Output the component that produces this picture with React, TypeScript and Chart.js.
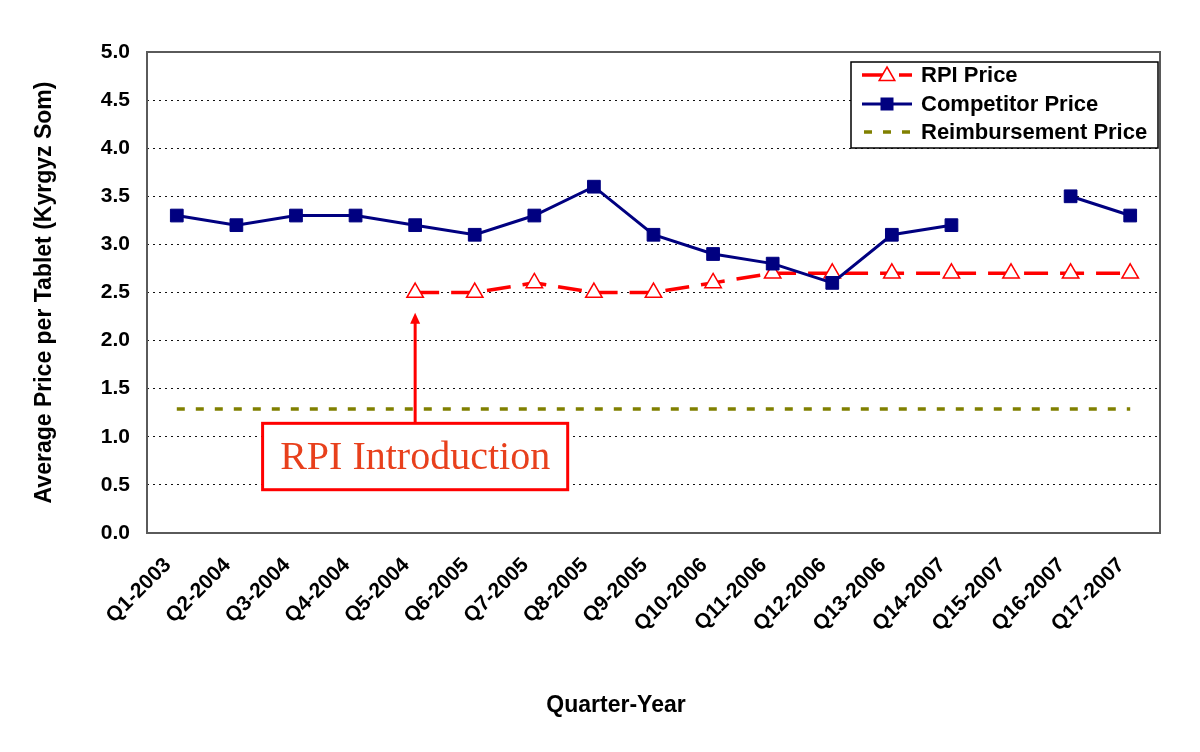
import React, { useEffect, useRef } from "react";
import { Chart, registerables } from "chart.js";

Chart.register(...registerables);

const categories = [
  "Q1-2003", "Q2-2004", "Q3-2004", "Q4-2004", "Q5-2004", "Q6-2005", "Q7-2005", "Q8-2005", "Q9-2005",
  "Q10-2006", "Q11-2006", "Q12-2006", "Q13-2006", "Q14-2007", "Q15-2007", "Q16-2007", "Q17-2007",
];
const rpiPrice = [null, null, null, null, 2.5, 2.5, 2.6, 2.5, 2.5, 2.6, 2.7, 2.7, 2.7, 2.7, 2.7, 2.7, 2.7];
const competitorPrice = [3.3, 3.2, 3.3, 3.3, 3.2, 3.1, 3.3, 3.6, 3.1, 2.9, 2.8, 2.6, 3.1, 3.2, null, 3.5, 3.3];
const reimbursementPrice = [1.29, 1.29, 1.29, 1.29, 1.29, 1.29, 1.29, 1.29, 1.29, 1.29, 1.29, 1.29, 1.29, 1.29, 1.29, 1.29, 1.29];
const seriesNames = ["RPI Price", "Competitor Price", "Reimbursement Price"];
const yMin = 0;
const yMax = 5;
const yStep = 0.5;
const yTitle = "Average Price per Tablet (Kyrgyz Som)";
const xTitle = "Quarter-Year";

// annotation (in data units: category index / value)
const annotationText = "RPI Introduction";
const arrowIndex = 4;
const arrowTipValue = 2.29;
const arrowBaseValue = 1.14;
const boxLeftIndex = 1.44;
const boxRightIndex = 6.56;
const boxTopValue = 1.14;
const boxBottomValue = 0.45;

const FONT = "'Liberation Sans', Arial, sans-serif";
const RED = "#ff0000";
const NAVY = "#000080";
const OLIVE = "#808000";

function drawTriangle(ctx: CanvasRenderingContext2D, x: number, y: number, r: number) {
  ctx.beginPath();
  ctx.moveTo(x, y - r);
  ctx.lineTo(x + r * 0.87, y + r * 0.5);
  ctx.lineTo(x - r * 0.87, y + r * 0.5);
  ctx.closePath();
  ctx.fillStyle = "#fff";
  ctx.fill();
  ctx.strokeStyle = RED;
  ctx.lineWidth = 1.5;
  ctx.stroke();
}

const overlayPlugin = {
  id: "overlay",
  afterDatasetsDraw(chart: any) {
    const ctx: CanvasRenderingContext2D = chart.ctx;
    const { left, right, top, bottom } = chart.chartArea;
    const xs = chart.scales.x;
    const ys = chart.scales.y;
    ctx.save();
    // frame
    ctx.setLineDash([]);
    ctx.strokeStyle = "#5a5a5a";
    ctx.lineWidth = 2;
    ctx.strokeRect(left, top, right - left, bottom - top);

    // arrow
    const ax = xs.getPixelForValue(arrowIndex);
    const tipY = ys.getPixelForValue(arrowTipValue);
    const baseY = ys.getPixelForValue(arrowBaseValue);
    ctx.strokeStyle = RED;
    ctx.fillStyle = RED;
    ctx.lineWidth = 3;
    ctx.beginPath();
    ctx.moveTo(ax, baseY);
    ctx.lineTo(ax, tipY + 8);
    ctx.stroke();
    ctx.beginPath();
    ctx.moveTo(ax, tipY);
    ctx.lineTo(ax + 5, tipY + 11);
    ctx.lineTo(ax - 5, tipY + 11);
    ctx.closePath();
    ctx.fill();

    // box
    const bx1 = xs.getPixelForValue(boxLeftIndex);
    const bx2 = xs.getPixelForValue(boxRightIndex);
    const by1 = ys.getPixelForValue(boxTopValue);
    const by2 = ys.getPixelForValue(boxBottomValue);
    ctx.fillStyle = "#fff";
    ctx.fillRect(bx1, by1, bx2 - bx1, by2 - by1);
    ctx.lineWidth = 3;
    ctx.strokeStyle = RED;
    ctx.strokeRect(bx1, by1, bx2 - bx1, by2 - by1);
    ctx.fillStyle = "#e8401c";
    ctx.font = "40px 'Liberation Serif', 'Times New Roman', serif";
    ctx.textAlign = "center";
    ctx.textBaseline = "middle";
    ctx.fillText(annotationText, (bx1 + bx2) / 2, (by1 + by2) / 2 + 2);

    // legend
    const lx = right - 309;
    const ly = top + 10;
    const lw = 307;
    const lh = 86;
    ctx.fillStyle = "#fff";
    ctx.fillRect(lx, ly, lw, lh);
    ctx.strokeStyle = "#000";
    ctx.lineWidth = 1.5;
    ctx.strokeRect(lx, ly, lw, lh);
    const rowY = [ly + 13, ly + 42, ly + 70];
    const sx1 = lx + 11;
    const sx2 = lx + 61;
    const mx = (sx1 + sx2) / 2;
    // RPI
    ctx.strokeStyle = RED;
    ctx.lineWidth = 3.5;
    ctx.beginPath();
    ctx.moveTo(sx1, rowY[0]);
    ctx.lineTo(mx, rowY[0]);
    ctx.stroke();
    ctx.beginPath();
    ctx.moveTo(mx + 12, rowY[0]);
    ctx.lineTo(sx2, rowY[0]);
    ctx.stroke();
    drawTriangle(ctx, mx, rowY[0] + 1, 9);
    // Competitor
    ctx.strokeStyle = NAVY;
    ctx.lineWidth = 3;
    ctx.beginPath();
    ctx.moveTo(sx1, rowY[1]);
    ctx.lineTo(sx2, rowY[1]);
    ctx.stroke();
    ctx.fillStyle = NAVY;
    ctx.fillRect(mx - 6.5, rowY[1] - 6.5, 13, 13);
    // Reimbursement
    ctx.strokeStyle = OLIVE;
    ctx.lineWidth = 3.5;
    ctx.setLineDash([8, 11]);
    ctx.beginPath();
    ctx.moveTo(sx1 + 2, rowY[2]);
    ctx.lineTo(sx2, rowY[2]);
    ctx.stroke();
    ctx.setLineDash([]);
    ctx.fillStyle = "#000";
    ctx.font = `bold 22px ${FONT}`;
    ctx.textAlign = "left";
    ctx.textBaseline = "middle";
    seriesNames.forEach((n, i) => ctx.fillText(n, lx + 70, rowY[i] + 1));

    // x title
    ctx.font = `bold 23px ${FONT}`;
    ctx.textAlign = "center";
    ctx.fillText(xTitle, left + (right - left) * 0.463, chart.height - 46);
    ctx.restore();
  },
};

export default function App() {
  const ref = useRef<HTMLCanvasElement>(null);
  useEffect(() => {
    if (!ref.current) return;
    Chart.defaults.font.family = FONT;
    const chart = new Chart(ref.current, {
      type: "line",
      data: {
        labels: categories,
        datasets: [
          {
            label: seriesNames[0],
            data: rpiPrice,
            borderColor: RED,
            borderWidth: 3.5,
            borderDash: [24, 12],
            pointStyle: "triangle",
            pointRadius: 9.5,
            pointBorderWidth: 1.5,
            pointBorderColor: RED,
            pointBackgroundColor: "#ffffff",
            tension: 0,
            order: 2,
          },
          {
            label: seriesNames[1],
            data: competitorPrice,
            borderColor: NAVY,
            borderWidth: 3,
            pointStyle: "rect",
            pointRadius: 9,
            pointBorderWidth: 1,
            pointBorderColor: NAVY,
            pointBackgroundColor: NAVY,
            tension: 0,
            order: 1,
          },
          {
            label: seriesNames[2],
            data: reimbursementPrice,
            borderColor: OLIVE,
            borderWidth: 3.5,
            borderDash: [8, 11],
            pointRadius: 0,
            tension: 0,
            order: 3,
          },
        ],
      },
      options: {
        animation: false,
        responsive: false,
        maintainAspectRatio: false,
        layout: { padding: { left: 0, right: 40, top: 52, bottom: 0 } },
        plugins: { legend: { display: false }, tooltip: { enabled: false } },
        scales: {
          x: {
            type: "category",
            offset: true,
            grid: { display: false, drawTicks: false },
            border: { display: false },
            ticks: {
              color: "#000",
              font: { size: 21, weight: "bold" },
              minRotation: 45,
              maxRotation: 45,
              autoSkip: false,
              padding: 20,
              labelOffset: -9,
            },
            afterFit: (s: any) => {
              s.height = 219;
            },
          },
          y: {
            min: yMin,
            max: yMax,
            grid: { color: "#111", lineWidth: 1, drawTicks: false },
            border: { display: false, dash: [2, 4] },
            ticks: {
              stepSize: yStep,
              color: "#000",
              font: { size: 21, weight: "bold" },
              padding: 17,
              callback: (v: any) => Number(v).toFixed(1),
            },
            title: {
              display: true,
              text: yTitle,
              color: "#000",
              font: { size: 23, weight: "bold" },
              padding: { top: 31, bottom: 0 },
            },
            afterFit: (s: any) => {
              s.width = 147;
            },
          },
        },
      },
      plugins: [overlayPlugin],
    });
    return () => chart.destroy();
  }, []);
  return (
    <div style={{ position: "absolute", left: 0, top: 0, width: 1200, height: 752, background: "#fff" }}>
      <canvas ref={ref} width={1200} height={752} style={{ width: 1200, height: 752 }} />
    </div>
  );
}
